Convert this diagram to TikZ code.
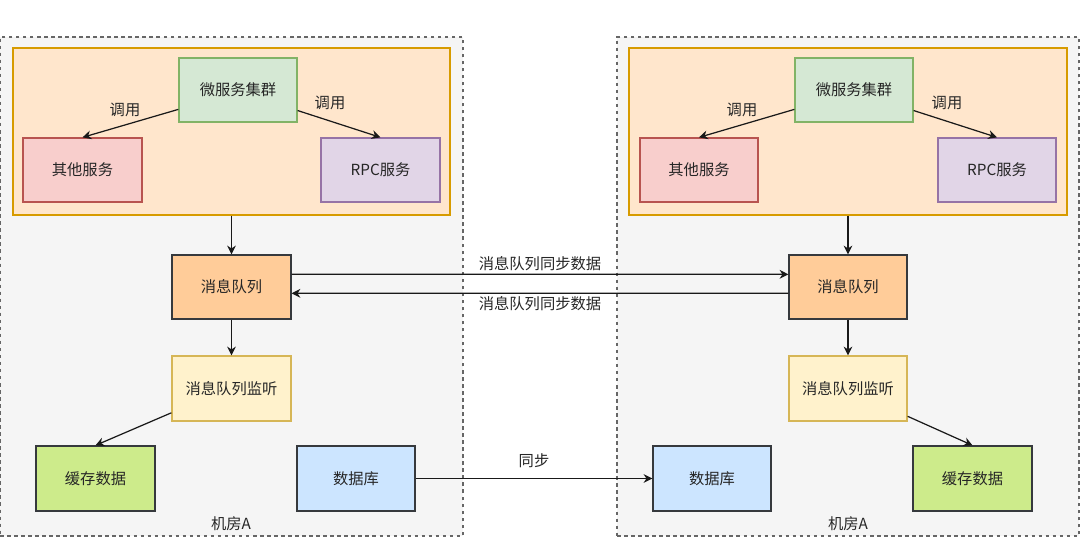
\documentclass[tikz,border=0pt]{standalone}
\usepackage{fontspec}
\setmainfont{Noto Sans CJK SC}
\usetikzlibrary{fit,arrows.meta,backgrounds}

\definecolor{roomfill}{HTML}{F5F5F5}
\definecolor{roomline}{HTML}{666666}
\definecolor{groupfill}{HTML}{FFE6CC}
\definecolor{groupline}{HTML}{D79B00}
\definecolor{msfill}{HTML}{D5E8D4}
\definecolor{msline}{HTML}{82B366}
\definecolor{otherfill}{HTML}{F8CECC}
\definecolor{otherline}{HTML}{B85450}
\definecolor{rpcfill}{HTML}{E1D5E7}
\definecolor{rpcline}{HTML}{9673A6}
\definecolor{mqfill}{HTML}{FFCC99}
\definecolor{darkline}{HTML}{36393D}
\definecolor{lisfill}{HTML}{FFF2CC}
\definecolor{lisline}{HTML}{D6B656}
\definecolor{cachefill}{HTML}{CDEB8B}
\definecolor{dbfill}{HTML}{CCE5FF}

\begin{document}
\begin{tikzpicture}[
		x=0.02cm,y=-0.02cm,
		every node/.style={font=\fontsize{8.7}{10}\selectfont,text=black!85},
		room/.style={
			draw=roomline,fill=roomfill,line width=0.6pt,dash pattern=on 2pt off 2pt,inner sep=0,
		},
		group/.style={draw=groupline,fill=groupfill,line width=0.7pt,inner sep=0},
		box/.style={line width=0.7pt,inner sep=0},
		ms/.style={box,draw=msline,fill=msfill},
		other/.style={box,draw=otherline,fill=otherfill},
		rpc/.style={box,draw=rpcline,fill=rpcfill},
		mq/.style={box,draw=darkline,fill=mqfill},
		lis/.style={box,draw=lisline,fill=lisfill},
		cache/.style={box,draw=darkline,fill=cachefill},
		db/.style={box,draw=darkline,fill=dbfill},
		flow/.style={-{Stealth[length=5pt,width=5pt]},line width=0.7pt,draw=black!90},
		tag/.style={inner sep=1.5pt},
	]

	\fill[white] (0,0) rectangle (1080,537);
	\useasboundingbox (0,0) rectangle (1080,537);

	% two rooms
	\node[room,fit={(0,37) (463,536)}] (roomA) {};
	\node[room,fit={(617,37) (1079,536)}] (roomB) {};
	\node at (231,524) (nameA) {机房A};
	\node at (848,524) (nameB) {机房A};

	% service groups
	\node[group,fit={(13,48) (450,215)}] (groupA) {};
	\node[group,fit={(629,48) (1067,215)}] (groupB) {};

	% room A
	\node[ms,fit={(179,58) (297,122)},label=center:微服务集群] (msA) {};
	\node[other,fit={(23,138) (142,202)},label=center:其他服务] (otherA) {};
	\node[rpc,fit={(321,138) (440,202)},label=center:RPC服务] (rpcA) {};
	\node[mq,fit={(172,255) (291,319)},label=center:消息队列] (mqA) {};
	\node[lis,fit={(172,356) (291,421)},label=center:消息队列监听] (lisA) {};
	\node[cache,fit={(36,446) (155,511)},label=center:缓存数据] (cacheA) {};
	\node[db,fit={(297,446) (415,511)},label=center:数据库] (dbA) {};

	% room B
	\node[ms,fit={(795,58) (913,122)},label=center:微服务集群] (msB) {};
	\node[other,fit={(640,138) (758,202)},label=center:其他服务] (otherB) {};
	\node[rpc,fit={(938,138) (1056,202)},label=center:RPC服务] (rpcB) {};
	\node[mq,fit={(789,255) (907,319)},label=center:消息队列] (mqB) {};
	\node[lis,fit={(789,356) (907,421)},label=center:消息队列监听] (lisB) {};
	\node[db,fit={(653,446) (771,511)},label=center:数据库] (dbB) {};
	\node[cache,fit={(913,446) (1032,511)},label=center:缓存数据] (cacheB) {};

	% calls
	\draw[flow] (msA.198) -- (otherA.north);
	\draw[flow] (msA.-19) -- (rpcA.north);
	\draw[flow] (msB.198) -- (otherB.north);
	\draw[flow] (msB.-19) -- (rpcB.north);
	\node at (125,110) (callA1) {调用};
	\node at (330,103) (callA2) {调用};
	\node at (742,110) (callB1) {调用};
	\node at (947,103) (callB2) {调用};

	\draw[flow] (groupA.south) -- (mqA.north);
	\draw[flow] (groupB.south) -- (mqB.north);
	\draw[flow] (mqA.south) -- (lisA.north);
	\draw[flow] (mqB.south) -- (lisB.north);
	\draw[flow] (lisA.202) -- (cacheA.north);
	\draw[flow] (lisB.-25) -- (cacheB.north);

	% sync between rooms
	\draw[flow] (mqA.12) -- node[tag,above] {消息队列同步数据} (mqB.168);
	\draw[flow] (mqB.186) -- node[tag,below] {消息队列同步数据} (mqA.-6);
	\draw[flow] (dbA.east) -- node[tag,above,yshift=4pt] {同步} (dbB.west);

\end{tikzpicture}
\end{document}
